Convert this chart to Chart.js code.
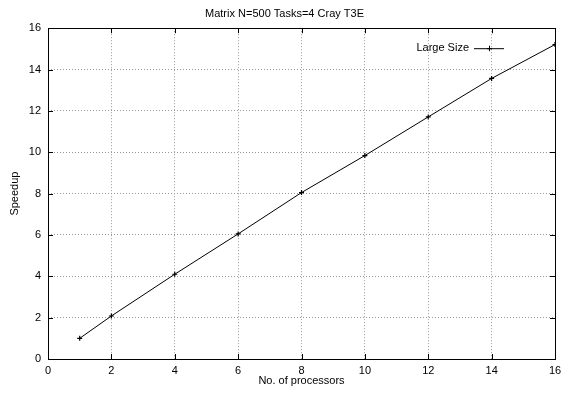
<!DOCTYPE html>
<html>
<head>
<meta charset="utf-8">
<script src="https://cdn.jsdelivr.net/npm/chart.js@4/dist/chart.umd.min.js"></script>
<style>
  html, body { margin: 0; padding: 0; background: #fff; }
  #wrap { width: 561px; height: 395px; }
</style>
</head>
<body>
<div id="wrap"><canvas id="speedChart" width="561" height="395"></canvas></div>
<script>
// speedup measured per processor count
var procs = [1, 2, 4, 6, 8, 10, 12, 14, 16];
var speedup = [1.0, 2.08, 4.1, 6.05, 8.05, 9.84, 11.71, 13.57, 15.21];
var seriesName = 'Large Size';
var xTicks = [0, 2, 4, 6, 8, 10, 12, 14, 16];
var yTicks = [0, 2, 4, 6, 8, 10, 12, 14, 16];

var FONT = 'Liberation Sans, Arial, Helvetica, sans-serif';

// solid frame, small inward tick marks on all four sides, key in top right
var frameTicks = {
  id: 'frameTicks',
  afterDatasetsDraw: function(chart) {
    var ctx = chart.ctx, a = chart.chartArea;
    var sx = chart.scales.x, sy = chart.scales.y;
    var len = 5;
    ctx.save();
    ctx.setLineDash([]);
    ctx.strokeStyle = '#000';
    ctx.lineWidth = 1;
    ctx.strokeRect(Math.round(a.left) + 0.5, Math.round(a.top) + 0.5,
                   Math.round(a.right - a.left), Math.round(a.bottom - a.top));
    ctx.beginPath();
    xTicks.forEach(function(v) {
      var px = Math.round(sx.getPixelForValue(v)) + 0.5;
      ctx.moveTo(px, a.bottom); ctx.lineTo(px, a.bottom - len);
      ctx.moveTo(px, a.top); ctx.lineTo(px, a.top + len);
    });
    yTicks.forEach(function(v) {
      var py = Math.round(sy.getPixelForValue(v)) + 0.5;
      ctx.moveTo(a.left, py); ctx.lineTo(a.left + len, py);
      ctx.moveTo(a.right, py); ctx.lineTo(a.right - len, py);
    });
    ctx.stroke();

    // key
    var ky = a.top + 20;
    var lx0 = a.right - 81, lx1 = a.right - 51;
    ctx.fillStyle = '#000';
    ctx.font = '11px ' + FONT;
    ctx.textAlign = 'right';
    ctx.textBaseline = 'middle';
    ctx.fillText(seriesName, lx0 - 5, ky);
    ctx.beginPath();
    ctx.moveTo(lx0, ky + 0.5); ctx.lineTo(lx1, ky + 0.5);
    var mx = Math.round((lx0 + lx1) / 2) + 0.5;
    ctx.moveTo(mx - 2.5, ky + 0.5); ctx.lineTo(mx + 2.5, ky + 0.5);
    ctx.moveTo(mx, ky - 2.5); ctx.lineTo(mx, ky + 3);
    ctx.stroke();
    ctx.restore();
  }
};

new Chart(document.getElementById('speedChart'), {
  type: 'line',
  data: {
    datasets: [{
      label: seriesName,
      data: procs.map(function(p, i) { return { x: p, y: speedup[i] }; }),
      borderColor: '#000',
      backgroundColor: '#000',
      borderWidth: 1,
      pointStyle: 'cross',
      pointRadius: 2.5,
      pointBorderWidth: 1.2,
      tension: 0,
      fill: false
    }]
  },
  options: {
    responsive: false,
    animation: false,
    devicePixelRatio: 1,
    layout: { padding: { top: 1, right: 0, left: 8, bottom: 7 } },
    plugins: {
      legend: { display: false },
      tooltip: { enabled: false },
      title: {
        display: true,
        text: 'Matrix N=500 Tasks=4 Cray T3E',
        color: '#000',
        font: { family: FONT, size: 11, weight: 'normal' },
        padding: { top: 6, bottom: 8 }
      }
    },
    scales: {
      x: {
        type: 'linear',
        min: 0, max: 16,
        afterBuildTicks: function(s) { s.ticks = xTicks.map(function(v) { return { value: v }; }); },
        afterFit: function(s) { s.height = 29; s.paddingRight = 6; },
        border: { display: false, dash: [1, 2] },
        grid: { color: '#999', lineWidth: 1, drawTicks: false },
        ticks: { color: '#000', font: { family: FONT, size: 11 }, padding: 5, maxRotation: 0 },
        title: { display: true, text: 'No. of processors', color: '#000', font: { family: FONT, size: 11 }, padding: { top: 0, bottom: 0 } }
      },
      y: {
        type: 'linear',
        min: 0, max: 16,
        afterBuildTicks: function(s) { s.ticks = yTicks.map(function(v) { return { value: v }; }); },
        afterFit: function(s) { s.width = 40; },
        border: { display: false, dash: [1, 2] },
        grid: { color: '#999', lineWidth: 1, drawTicks: false },
        ticks: { color: '#000', font: { family: FONT, size: 11 }, padding: 7 },
        title: { display: true, text: 'Speedup', color: '#000', font: { family: FONT, size: 11 }, padding: { top: 0, bottom: 0 } }
      }
    }
  },
  plugins: [frameTicks]
});
</script>
</body>
</html>
